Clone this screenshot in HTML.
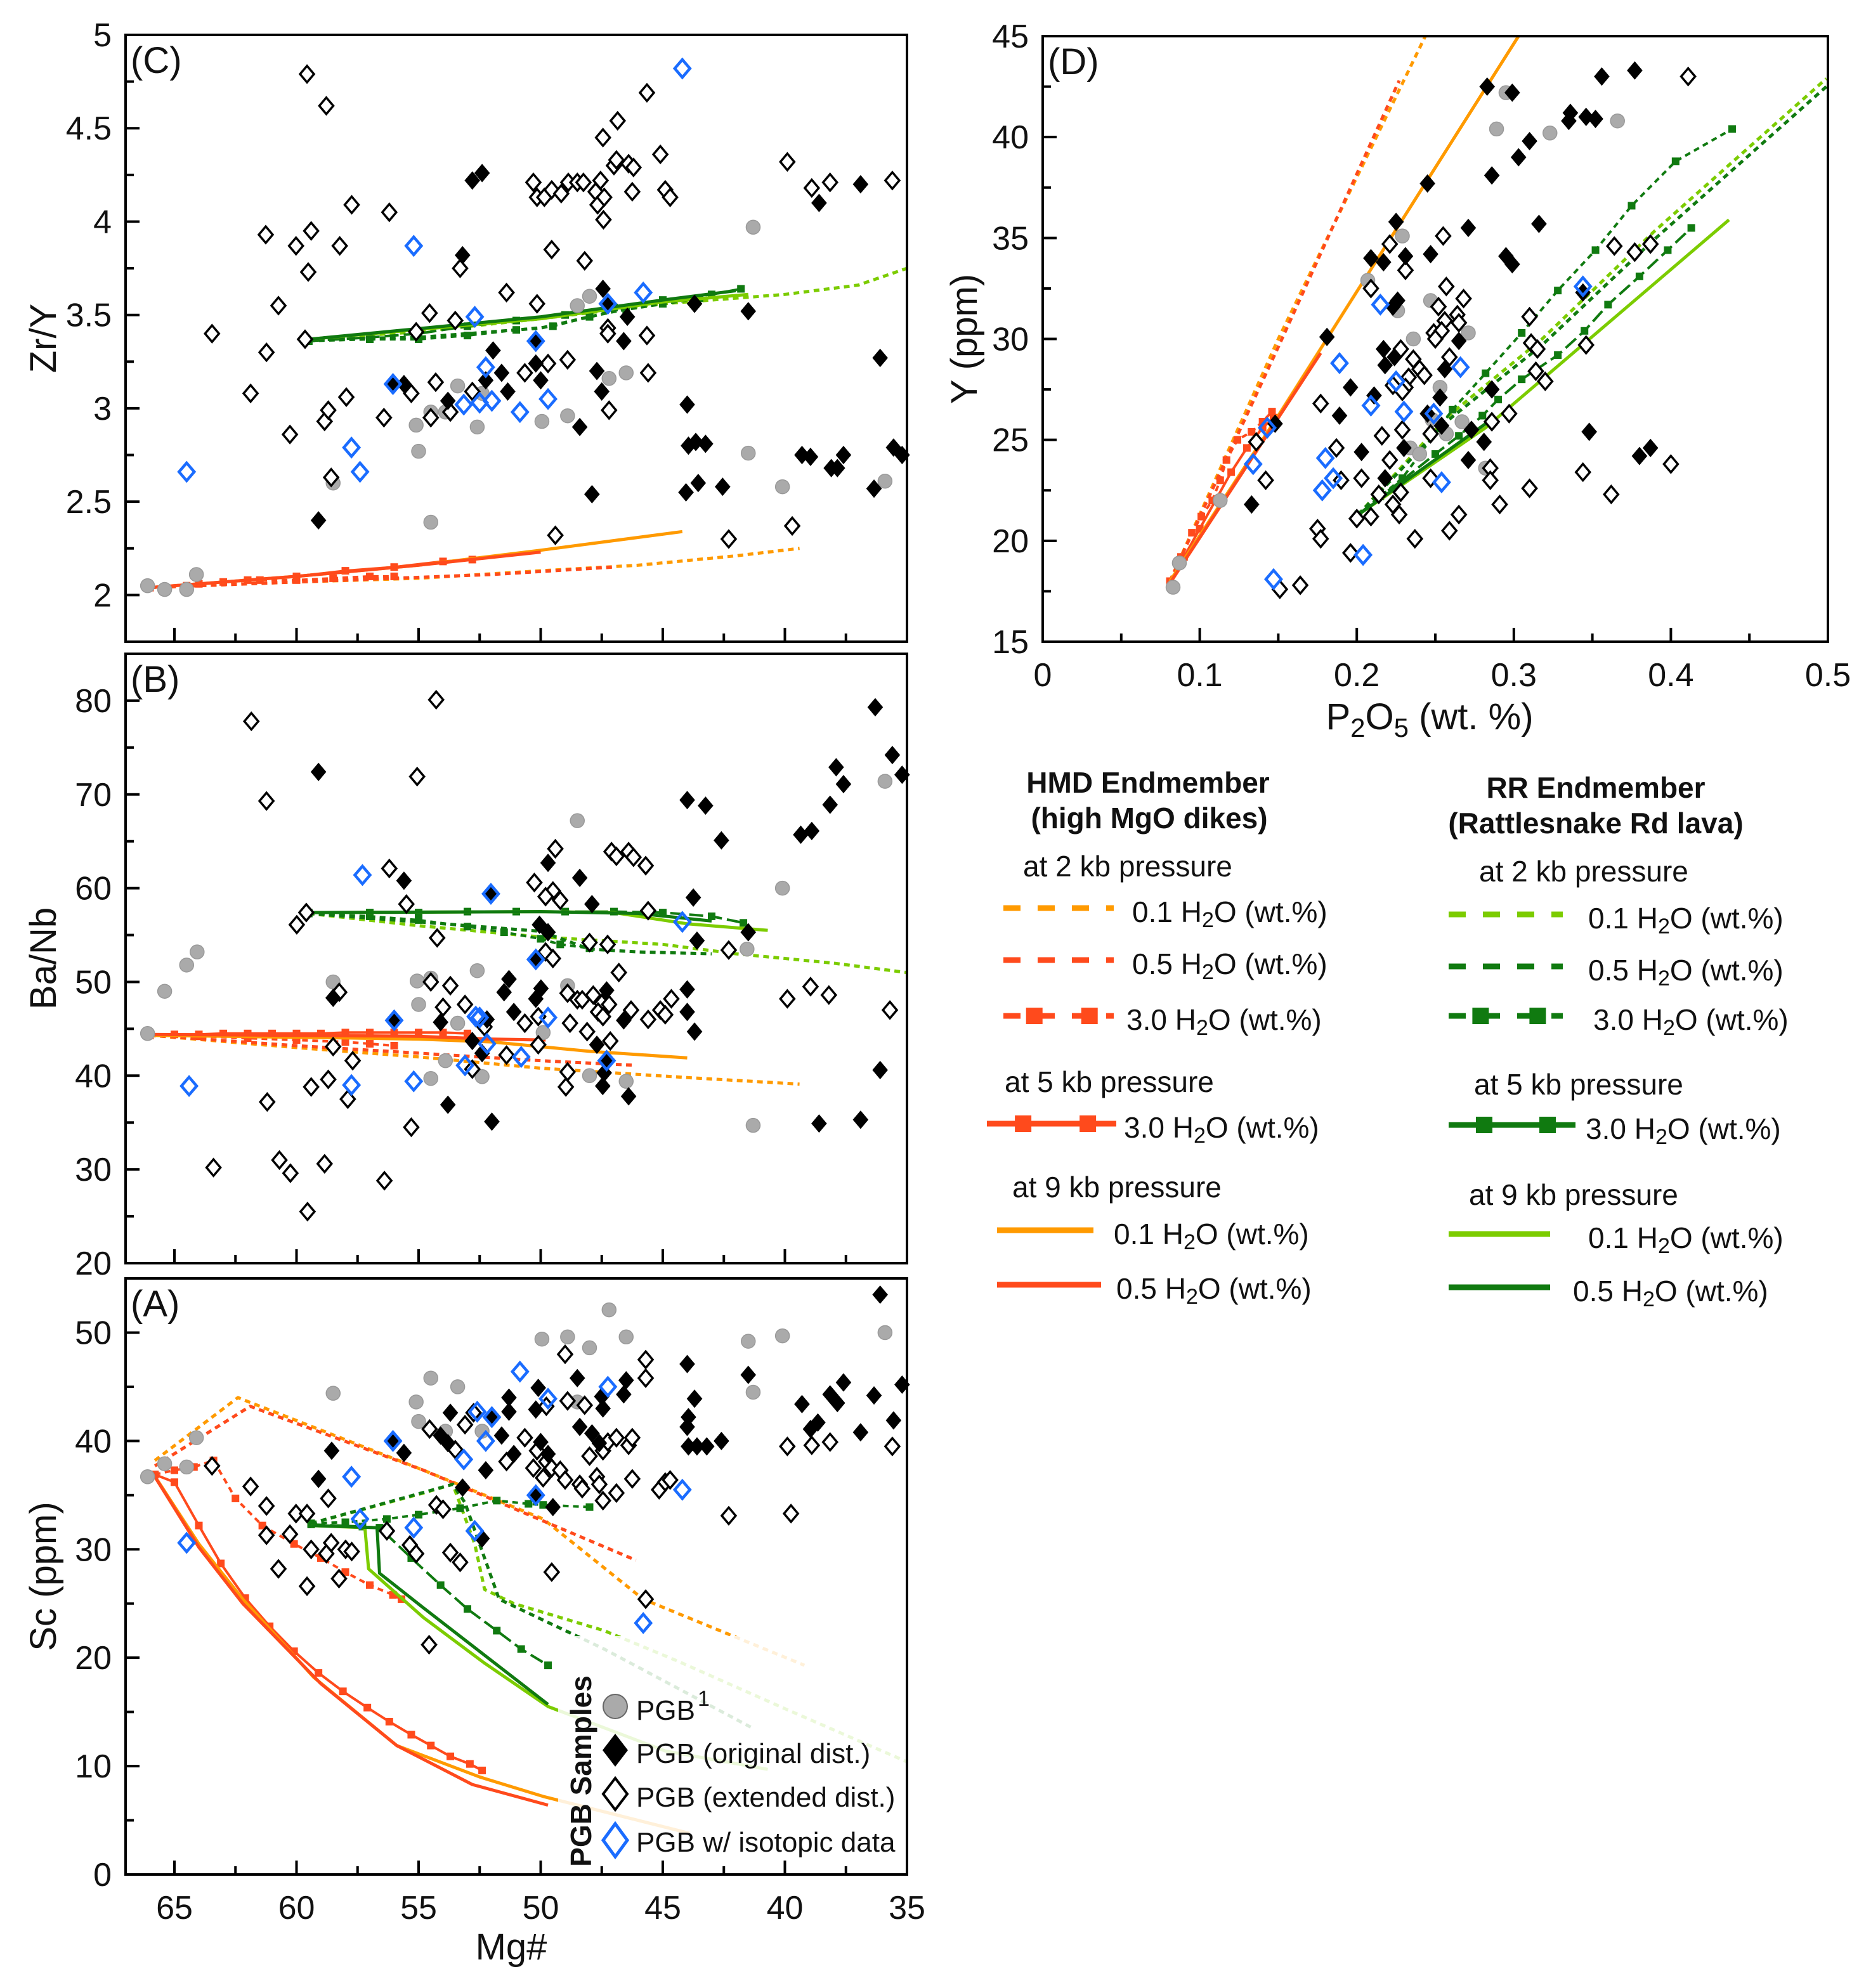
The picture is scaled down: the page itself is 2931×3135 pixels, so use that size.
<!DOCTYPE html>
<html><head><meta charset="utf-8"><style>
html,body{margin:0;padding:0;background:#fff;}
svg{display:block;font-family:"Liberation Sans",sans-serif;}
</style></head><body>
<svg id="fig" width="2931" height="3135" viewBox="0 0 2931 3135" xmlns="http://www.w3.org/2000/svg">
<rect x="0" y="0" width="2931" height="3135" fill="#fff"/>
<g id="legend" font-size="46" fill="#111">
 <text x="1810" y="1250" text-anchor="middle" font-weight="bold" font-size="46">HMD Endmember</text>
 <text x="1812" y="1306" text-anchor="middle" font-weight="bold" font-size="46">(high MgO dikes)</text>
 <text x="1613" y="1382">at 2 kb pressure</text>
 <text x="1785" y="1454">0.1 H<tspan font-size="34" dy="8">2</tspan><tspan dy="-8">O (wt.%)</tspan></text>
 <text x="1785" y="1536">0.5 H<tspan font-size="34" dy="8">2</tspan><tspan dy="-8">O (wt.%)</tspan></text>
 <text x="1776" y="1624">3.0 H<tspan font-size="34" dy="8">2</tspan><tspan dy="-8">O (wt.%)</tspan></text>
 <text x="1584" y="1722">at 5 kb pressure</text>
 <text x="1772" y="1794">3.0 H<tspan font-size="34" dy="8">2</tspan><tspan dy="-8">O (wt.%)</tspan></text>
 <text x="1596" y="1888">at 9 kb pressure</text>
 <text x="1756" y="1962">0.1 H<tspan font-size="34" dy="8">2</tspan><tspan dy="-8">O (wt.%)</tspan></text>
 <text x="1760" y="2048">0.5 H<tspan font-size="34" dy="8">2</tspan><tspan dy="-8">O (wt.%)</tspan></text>
 <text x="2516" y="1258" text-anchor="middle" font-weight="bold" font-size="46">RR Endmember</text>
 <text x="2516" y="1314" text-anchor="middle" font-weight="bold" font-size="46">(Rattlesnake Rd lava)</text>
 <text x="2332" y="1390">at 2 kb pressure</text>
 <text x="2504" y="1464">0.1 H<tspan font-size="34" dy="8">2</tspan><tspan dy="-8">O (wt.%)</tspan></text>
 <text x="2504" y="1546">0.5 H<tspan font-size="34" dy="8">2</tspan><tspan dy="-8">O (wt.%)</tspan></text>
 <text x="2512" y="1624">3.0 H<tspan font-size="34" dy="8">2</tspan><tspan dy="-8">O (wt.%)</tspan></text>
 <text x="2324" y="1726">at 5 kb pressure</text>
 <text x="2500" y="1796">3.0 H<tspan font-size="34" dy="8">2</tspan><tspan dy="-8">O (wt.%)</tspan></text>
 <text x="2316" y="1900">at 9 kb pressure</text>
 <text x="2504" y="1968">0.1 H<tspan font-size="34" dy="8">2</tspan><tspan dy="-8">O (wt.%)</tspan></text>
 <text x="2480" y="2052">0.5 H<tspan font-size="34" dy="8">2</tspan><tspan dy="-8">O (wt.%)</tspan></text>
</g>
</svg>
<script>
// ===== Panel C data (Mg#, Zr/Y) =====
const cOpen=[[59.57,4.79],[58.78,4.62],[63.46,3.40],[61.26,3.93],[61.23,3.30],[60.74,3.55],[61.88,3.08],[60.27,2.86],[60.02,3.87],[59.4,3.95],[59.52,3.73],[59.65,3.37],[57.74,4.09],[58.23,3.87],[58.85,2.93],[58.7,2.99],[57.96,3.06],[58.58,2.63],[56.2,4.05],[56.42,2.95],[55.3,3.08],[55.1,3.41],[54.55,3.51],[54.3,3.14],[54.5,2.95],[53.7,2.98],[53.5,3.47],[53.3,3.75],[52.8,3.09],[51.4,3.62],[50.65,3.19],[50.15,3.56],[50.3,4.21],[50.15,4.13],[49.85,4.13],[49.55,4.17],[49.55,3.85],[49.7,3.24],[49.4,2.32],[49.16,4.15],[48.87,4.21],[48.5,4.21],[48.25,4.21],[48.2,3.79],[48.9,3.26],[47.75,4.16],[47.67,4.09],[47.55,4.22],[47.45,4.45],[47.4,4.13],[47.43,4.01],[47.25,3.43],[47.25,3.40],[47.2,2.99],[47.0,4.30],[46.9,4.33],[46.85,4.54],[46.4,4.31],[46.2,4.29],[46.25,4.16],[45.65,4.69],[45.65,3.39],[45.6,3.19],[45.1,4.36],[44.9,4.17],[44.7,4.13],[42.3,2.30],[39.9,4.32],[39.7,2.37],[38.9,4.18],[38.15,4.21],[35.6,4.22]];
const cFilled=[[59.1,2.40],[56.0,3.13],[55.6,3.13],[53.8,3.04],[52.8,4.22],[52.4,4.26],[53.2,3.82],[52.25,3.15],[51.95,3.31],[51.6,3.19],[51.35,3.09],[50.2,3.24],[50.0,3.15],[50.2,3.36],[48.4,2.90],[47.9,2.54],[47.7,3.20],[47.5,3.09],[47.45,3.64],[46.6,3.36],[46.45,3.49],[43.7,3.56],[44.0,3.02],[43.95,2.80],[43.65,2.82],[43.25,2.81],[44.05,2.55],[43.55,2.60],[42.55,2.58],[41.5,3.52],[39.3,2.75],[38.95,2.74],[38.6,4.10],[38.1,2.68],[37.85,2.68],[37.6,2.75],[36.9,4.20],[36.1,3.27],[36.35,2.57],[35.55,2.79],[35.2,2.75],[47.25,3.56]];
const cGray=[[66.1,2.05],[65.4,2.03],[64.5,2.03],[64.1,2.11],[58.5,2.60],[55.1,2.91],[55.0,2.77],[54.5,2.39],[54.5,2.98],[53.9,2.98],[53.4,3.12],[52.6,2.90],[52.4,3.08],[49.95,2.93],[48.9,2.96],[48.5,3.55],[48.0,3.60],[47.2,3.16],[46.5,3.19],[41.3,3.97],[41.5,2.76],[40.1,2.58],[35.9,2.61]];
const cBlue=[[64.5,2.66],[57.75,2.79],[57.4,2.66],[56.05,3.13],[55.2,3.87],[53.15,3.02],[52.7,3.49],[52.5,3.03],[52.25,3.22],[52.0,3.04],[50.85,2.98],[50.2,3.36],[49.7,3.05],[47.25,3.56],[45.8,3.62],[44.2,4.82]];
const cHMD2_01=[[66,2.04],[60,2.07],[55,2.09],[50,2.13],[46,2.16],[42,2.21],[39.4,2.25]];
const cHMD2_05=[[66,2.04],[58,2.08],[52,2.11],[47,2.15]];
const cHMD2_30=[[66,2.04],[64.5,2.05],[63,2.07],[61.5,2.08],[60,2.08],[58.5,2.09],[57,2.10],[56,2.10]];
const cHMD5_30=[[66,2.04],[64,2.06],[62,2.08],[60,2.10],[58,2.13],[56,2.15],[54,2.18],[52.8,2.19]];
const cHMD9_01=[[66,2.04],[60,2.10],[55,2.16],[50,2.24],[44.2,2.34]];
const cHMD9_05=[[66,2.04],[60,2.10],[55,2.16],[50,2.23]];
const cRR2_01=[[59.5,3.37],[55,3.41],[50,3.48],[45,3.56],[40,3.61],[37,3.66],[35,3.75]];
const cRR2_05=[[59.5,3.37],[55,3.38],[50,3.43],[47,3.52],[44,3.58]];
const cRR2_30=[[59.5,3.36],[57,3.37],[55,3.37],[53,3.39],[51,3.42],[49.5,3.44],[48,3.49],[46.5,3.53],[45,3.56],[43.5,3.59]];
const cRR5_30=[[59.5,3.36],[57,3.38],[55,3.40],[53,3.44],[51,3.47],[49,3.50],[47,3.54],[45,3.58],[43,3.61],[41.8,3.64]];
const cRR9_01=[[59.5,3.37],[50,3.48],[45,3.57],[41.5,3.61]];
const cRR9_05=[[59.5,3.37],[50,3.49],[45,3.58],[42,3.63]];
const cYTicks=["2","2.5","3","3.5","4","4.5","5"];

// ===== Panel B data (Mg#, Ba/Nb) =====
const bOpen=[[61.85,77.8],[61.23,69.3],[54.28,80.1],[55.06,71.9],[56.2,62.1],[59.6,57.4],[59.99,56.1],[55.5,58.3],[54.24,54.7],[50.26,60.6],[49.5,59.7],[49.8,59.1],[49.2,58.7],[49.4,64.2],[47.1,63.9],[46.9,63.4],[46.4,63.9],[46.2,63.3],[45.7,62.4],[45.6,57.6],[48.0,54.2],[47.26,54.0],[49.8,53.2],[49.5,52.5],[46.8,51.0],[42.3,53.4],[58.25,48.9],[54.5,50.0],[53.7,49.6],[54.0,47.3],[53.1,47.6],[52.3,45.2],[50.65,45.6],[50.1,46.3],[48.9,48.8],[48.5,48.1],[48.3,48.1],[47.85,48.6],[47.5,47.7],[47.65,46.8],[47.45,46.3],[47.2,47.6],[48.8,45.6],[48.1,44.7],[46.3,47.0],[45.6,46.0],[45.1,47.0],[44.9,46.5],[44.65,48.2],[50.1,43.3],[48.9,40.4],[48.97,38.8],[47.15,43.7],[51.4,42.2],[52.8,40.7],[58.5,43.1],[57.7,41.6],[58.7,39.6],[59.4,38.8],[57.9,37.5],[61.2,37.2],[55.3,34.5],[63.4,30.2],[60.7,31.0],[60.25,29.6],[58.85,30.6],[56.4,28.8],[59.55,25.5],[39.9,48.2],[38.95,49.5],[38.2,48.6],[35.7,47.0]];
const bFilled=[[59.1,72.4],[55.6,60.8],[52.04,59.4],[49.7,62.7],[48.4,61.1],[47.9,58.3],[44.0,69.4],[43.25,68.8],[42.6,65.1],[43.75,59.0],[43.6,54.4],[41.5,55.3],[36.3,79.3],[35.6,74.2],[35.2,72.1],[37.9,72.9],[37.6,71.1],[38.15,68.9],[39.35,65.7],[38.9,66.1],[50.05,56.1],[49.7,55.3],[50.2,52.4],[51.3,50.3],[51.5,48.9],[49.99,49.3],[50.2,48.2],[51.1,46.8],[52.2,46.0],[54.1,45.7],[56.0,45.9],[47.3,49.1],[46.6,45.9],[44.0,49.2],[44.0,46.8],[43.7,44.7],[52.8,43.7],[52.4,42.4],[47.7,43.3],[47.3,41.5],[47.4,40.3],[47.46,38.9],[46.4,37.8],[53.8,36.9],[52.0,35.1],[58.5,48.3],[36.1,40.6],[38.6,34.9],[36.9,35.3]];
const bGray=[[66.1,44.5],[65.4,49.0],[64.5,51.8],[64.07,53.2],[58.5,50.0],[55.06,50.1],[54.5,50.4],[55.0,47.6],[52.6,51.2],[48.5,67.2],[48.9,49.6],[53.4,45.6],[53.9,41.6],[54.5,39.7],[52.4,39.9],[49.9,44.6],[48.0,40.0],[46.5,39.4],[40.1,60.0],[41.55,53.5],[41.3,34.7],[35.9,71.4]];
const bBlue=[[64.4,38.9],[57.3,61.4],[56.0,45.9],[57.75,39.0],[55.2,39.4],[52.66,46.3],[52.5,46.2],[52.2,43.4],[53.1,41.1],[50.8,42.0],[49.7,46.2],[50.2,52.4],[52.04,59.4],[47.3,41.6],[44.2,56.4]];
const bHMD2_01=[[66,44.3],[60,43.0],[55,42.0],[50,40.8],[44,39.8],[39.4,39.1]];
const bHMD2_05=[[66,44.3],[60,43.2],[55,42.4],[50,41.6],[46.1,41.1]];
const bHMD2_30=[[66,44.3],[64,44.2],[62,44.0],[60,43.8],[58,43.6],[57,43.4],[56,43.2]];
const bHMD5_30=[[66,44.4],[65,44.4],[64,44.4],[63,44.5],[62,44.5],[61,44.5],[60,44.5],[59,44.5],[58,44.6],[57,44.6],[56,44.6],[55,44.6],[54,44.6],[53,44.5]];
const bHMD9_01=[[66,44.3],[60,44.1],[55,43.9],[52,43.6],[48,42.6],[44,41.9]];
const bHMD9_05=[[66,44.4],[60,44.3],[55,44.2],[52,43.9],[49.8,43.8]];
const bRR2_01=[[59.5,57.3],[55,56.0],[50,54.8],[45,54.0],[42,53.0],[38,52.0],[35,51.0]];
const bRR2_05=[[59.5,57.3],[55,56.4],[50,55.4],[48,53.5],[46,53.2],[43,53.0]];
const bRR2_30=[[59.5,57.3],[57,57.0],[55,56.6],[53,55.9],[51.5,55.3],[50,54.6],[49.2,54.0],[48,53.6]];
const bRR5_30=[[59.5,57.4],[57,57.4],[55,57.4],[53,57.5],[51,57.5],[49,57.5],[47,57.5],[45,57.4],[43,57.0],[41.7,56.3]];
const bRR9_01=[[59.5,57.4],[50,57.5],[47,57.4],[44,56.2],[40.7,55.5]];
const bRR9_05=[[59.5,57.4],[50,57.5],[46,57.3],[43,56.5]];
const bYTicks=["20","30","40","50","60","70","80"];

// ===== Panel A data (Mg#, Sc) =====
const aOpen=[[63.46,37.7],[61.88,35.8],[61.23,34.0],[61.23,31.3],[60.74,28.2],[60.02,33.3],[60.27,31.4],[59.57,33.3],[59.57,26.6],[59.4,30.0],[58.7,34.7],[58.58,30.6],[58.78,29.6],[58.26,27.3],[57.99,30.0],[57.74,29.8],[56.3,31.7],[55.36,30.4],[55.1,29.6],[54.55,41.1],[54.57,21.2],[54.27,34.1],[54.0,33.7],[53.7,29.7],[53.5,39.2],[53.3,28.8],[53.1,41.5],[52.75,42.6],[51.4,38.1],[50.65,40.3],[50.3,37.5],[50.15,39.1],[49.9,36.6],[49.77,38.1],[49.55,37.5],[49.77,43.2],[49.55,27.9],[49.2,37.3],[49.0,48.0],[49.0,36.4],[48.9,43.7],[48.4,36.0],[48.3,35.6],[48.2,43.3],[48.0,38.6],[47.7,36.7],[47.6,36.0],[47.45,34.5],[47.45,39.1],[47.25,39.9],[46.9,40.3],[46.9,35.2],[46.4,39.6],[46.25,40.3],[46.25,36.5],[45.7,47.5],[45.7,45.8],[45.7,25.4],[45.15,35.5],[44.9,36.2],[44.7,36.4],[42.3,33.1],[39.9,39.5],[39.75,33.3],[38.9,39.6],[38.15,39.9],[35.6,39.5]];
const aFilled=[[59.1,36.5],[58.56,39.1],[56.0,40.0],[55.6,38.9],[54.1,40.5],[53.7,42.6],[53.8,39.8],[53.2,35.7],[52.4,31.0],[52.25,37.3],[51.95,42.2],[51.6,40.5],[51.3,42.7],[51.3,44.0],[51.1,38.8],[50.2,42.9],[50.1,44.9],[50.0,39.9],[49.7,38.8],[50.2,35.0],[49.5,33.9],[48.5,45.8],[48.4,41.3],[47.9,40.7],[47.6,39.8],[47.45,43.0],[47.5,44.1],[46.6,44.3],[46.5,45.6],[44.0,47.1],[43.95,42.2],[43.7,43.9],[44.0,41.3],[43.95,39.5],[43.6,39.5],[43.2,39.5],[42.6,40.0],[41.5,46.1],[39.3,43.4],[38.95,41.1],[38.65,41.7],[38.15,44.3],[37.85,43.5],[37.6,45.4],[36.9,40.8],[36.35,44.2],[36.1,53.5],[35.55,41.9],[35.2,45.2]];
const aGray=[[66.1,36.7],[65.4,37.9],[64.5,37.6],[64.1,40.3],[58.5,44.4],[55.1,43.6],[55.0,41.8],[54.5,45.8],[53.9,40.9],[53.4,45.0],[52.4,40.9],[49.95,49.4],[48.9,49.6],[48.0,48.6],[48.5,43.6],[47.2,52.1],[46.5,49.6],[41.5,49.2],[41.3,44.5],[40.1,49.7],[35.9,50.0]];
const aBlue=[[64.5,30.6],[57.75,36.7],[57.4,32.8],[56.05,40.0],[55.2,32.0],[53.15,38.3],[52.6,42.7],[52.0,42.2],[52.25,40.0],[52.7,31.7],[50.85,46.4],[50.2,35.0],[49.7,43.9],[47.25,45.0],[45.8,23.2],[44.2,35.5]];
const aHMD2_01=[[65.8,38.2],[62.4,44.0],[54.8,37.3],[49.9,32.8],[45.8,25.4],[39.2,19.3]];
const aHMD2_05=[[65.8,37.7],[61.9,43.2],[54.8,37.3],[46.1,29.0]];
const aHMD2_30=[[65.8,36.9],[65,37.3],[64.2,37.6],[63.4,38.2],[62.5,34.7],[61.4,32.2],[60.1,30.5],[59.0,29.2],[58.0,27.9],[57.0,26.7],[56.05,25.8],[55.7,25.4]];
const aHMD5_30=[[65.8,36.9],[65,36.2],[64.0,32.2],[63.1,28.7],[62.1,25.5],[61.1,22.9],[60.1,20.6],[59.1,18.6],[58.1,16.9],[57.1,15.4],[56.2,14.1],[55.3,12.9],[54.5,11.9],[53.7,10.9],[52.9,10.2],[52.4,9.6]];
const aHMD9_01=[[65.7,36.4],[64,30.5],[62.2,25.4],[59.3,18.2],[55.9,11.9],[52.5,9.0],[49.9,7.2],[43.9,3.8]];
const aHMD9_05=[[65.8,36.7],[64,30.2],[62.2,25.0],[59.0,17.6],[55.9,11.9],[52.8,8.3],[49.7,6.4]];
const aRR2_01=[[59.4,32.4],[54.8,35.2],[53.6,36.0],[52.7,30.5],[52.3,26.3],[51.1,25.0],[47.4,22.5],[44.4,19.7],[40.0,15.3],[35,10.4]];
const aRR2_05=[[59.4,32.4],[53.6,36.0],[53.1,34.3],[51.7,25.4],[47.4,20.8],[41.4,13.6]];
const aRR2_30=[[59.4,32.4],[58,32.5],[56.3,32.8],[55,33.2],[53.3,33.8],[51.8,34.5],[50.5,34.2],[49.9,34.1],[48.0,33.9]];
const aRR5_30=[[59.4,32.3],[57.3,32.1],[56.6,32.0],[55.3,29.2],[54.1,26.7],[53.0,24.5],[51.8,22.5],[50.8,20.8],[49.7,19.3]];
const aRR9_01=[[59.4,32.2],[57.2,32.0],[57.05,28.2],[54.8,23.7],[52.3,19.5],[49.7,15.5],[44.9,11.4],[40.7,9.7]];
const aRR9_05=[[59.4,32.2],[56.7,32.0],[56.6,27.8],[54.8,24.6],[49.7,15.7]];
const aYTicks=["0","10","20","30","40","50"];
const mgTicks=["65","60","55","50","45","40","35"];

// ===== Panel D data (P2O5, Y) =====
const dOpen=[[0.221,34.7],[0.255,35.1],[0.231,33.4],[0.209,32.5],[0.257,32.6],[0.268,32.0],[0.252,31.6],[0.264,31.2],[0.256,30.9],[0.249,30.3],[0.265,30.8],[0.254,30.4],[0.250,30.0],[0.259,29.1],[0.228,29.5],[0.236,29.0],[0.240,28.5],[0.243,28.2],[0.233,28.1],[0.223,27.7],[0.231,27.6],[0.229,27.4],[0.177,26.8],[0.216,25.2],[0.229,25.5],[0.247,25.3],[0.187,24.6],[0.221,24.0],[0.190,23.0],[0.203,23.1],[0.247,23.1],[0.228,22.4],[0.214,22.3],[0.223,21.8],[0.227,21.3],[0.200,21.1],[0.209,21.2],[0.175,20.6],[0.177,20.1],[0.196,19.4],[0.237,20.1],[0.259,20.5],[0.265,21.3],[0.151,17.6],[0.164,17.8],[0.142,23.0],[0.136,24.9],[0.285,23.6],[0.285,23.0],[0.291,21.8],[0.286,25.9],[0.297,26.3],[0.310,31.1],[0.311,29.8],[0.315,29.5],[0.314,28.4],[0.320,27.9],[0.310,22.6],[0.344,23.4],[0.346,29.7],[0.362,22.3],[0.364,34.6],[0.377,34.3],[0.387,34.7],[0.400,23.8],[0.411,43.0]];
const dFilled=[[0.283,42.5],[0.299,42.2],[0.356,43.0],[0.377,43.3],[0.336,41.2],[0.335,40.8],[0.346,41.0],[0.352,40.9],[0.310,39.8],[0.303,39.0],[0.286,38.1],[0.245,37.7],[0.225,35.8],[0.271,35.5],[0.316,35.7],[0.209,34.0],[0.217,33.8],[0.231,34.1],[0.247,34.2],[0.295,34.1],[0.299,33.7],[0.226,31.9],[0.223,31.6],[0.181,30.1],[0.265,29.9],[0.217,29.5],[0.224,29.1],[0.218,28.7],[0.256,28.5],[0.196,27.6],[0.211,27.2],[0.253,27.1],[0.286,27.5],[0.189,26.2],[0.245,26.3],[0.254,25.7],[0.273,25.5],[0.230,24.6],[0.203,24.4],[0.281,24.9],[0.271,24.0],[0.133,21.8],[0.148,25.8],[0.348,25.4],[0.380,24.2],[0.387,24.6],[0.344,32.3],[0.218,23.1]];
const dGray=[[0.295,42.2],[0.289,40.4],[0.323,40.2],[0.366,40.8],[0.207,32.9],[0.229,35.1],[0.226,31.4],[0.247,31.9],[0.236,30.0],[0.271,30.3],[0.253,27.6],[0.257,25.3],[0.267,25.9],[0.234,24.6],[0.240,24.3],[0.282,23.6],[0.083,17.7],[0.087,18.9],[0.113,22.0],[0.248,26.0]];
const dBlue=[[0.215,31.7],[0.189,28.8],[0.209,26.7],[0.225,27.9],[0.230,26.4],[0.249,26.3],[0.266,28.6],[0.180,24.1],[0.185,23.1],[0.178,22.5],[0.254,22.9],[0.204,19.3],[0.147,18.1],[0.134,23.8],[0.143,25.6],[0.344,32.6]];
const dHMD2_01=[[0.081,18.0],[0.15,30.0],[0.243,44.9],[0.25,46]];
const dHMD2_05=[[0.081,18.0],[0.15,29.6],[0.227,42.8]];
const dHMD2_30=[[0.081,18.0],[0.088,19.2],[0.095,20.4],[0.101,21.2],[0.108,22.0],[0.113,23.0],[0.117,24.0],[0.124,25.0],[0.133,25.4],[0.140,25.9],[0.146,26.4]];
const dHMD5_30=[[0.081,17.9],[0.090,19.2],[0.100,20.6],[0.110,22.0],[0.120,23.4],[0.130,24.6],[0.140,25.6],[0.147,26.1]];
const dHMD9_01=[[0.081,18.0],[0.15,26.2],[0.303,45.0],[0.31,46]];
const dHMD9_05=[[0.081,17.9],[0.177,29.3]];
const dRR2_01=[[0.201,21.3],[0.257,26.1],[0.318,30.0],[0.389,35.3],[0.499,42.9]];
const dRR2_05=[[0.201,21.3],[0.257,25.9],[0.318,29.7],[0.389,34.9],[0.499,42.5]];
const dRR2_30=[[0.201,21.3],[0.229,23.1],[0.261,26.5],[0.282,28.3],[0.305,30.3],[0.328,32.4],[0.352,34.4],[0.375,36.6],[0.403,38.8],[0.439,40.4]];
const dRR5_30=[[0.201,21.3],[0.215,22.2],[0.229,23.0],[0.25,24.3],[0.265,25.2],[0.28,26.2],[0.29,27.0],[0.305,28.0],[0.328,29.2],[0.345,30.4],[0.36,31.7],[0.38,33.1],[0.398,34.4],[0.413,35.5]];
const dRR9_01=[[0.201,21.3],[0.282,25.6],[0.437,35.9]];
const dRR9_05=[[0.201,21.3],[0.282,25.8]];
const dXTicks=["0","0.1","0.2","0.3","0.4","0.5"];
const dYTicks=["15","20","25","30","35","40","45"];

// ===== rendering =====
const NS="http://www.w3.org/2000/svg";
const svg=document.getElementById('fig');
const legendG=document.getElementById('legend');
function mk(tag,attrs,parent){const e=document.createElementNS(NS,tag);for(const k in attrs)e.setAttribute(k,attrs[k]);(parent||svg).appendChild(e);return e;}
const ORANGE="#ff9a00",RED="#ff4a1c",LGREEN="#7ccc00",DGREEN="#107a10",BLUE="#1a6cff";
const STY={
 h201:{c:ORANGE,w:5,d:"9,7",m:false},
 h205:{c:RED,w:5,d:"9,7",m:false},
 h230:{c:RED,w:4,d:"9,7",m:true},
 h530:{c:RED,w:4,d:"",m:true},
 h901:{c:ORANGE,w:5,d:"",m:false},
 h905:{c:RED,w:5,d:"",m:false},
 r201:{c:LGREEN,w:5,d:"9,7",m:false},
 r205:{c:DGREEN,w:5,d:"9,7",m:false},
 r230:{c:DGREEN,w:4,d:"9,7",m:true},
 r530:{c:DGREEN,w:4,d:"22,8",m:true},
 r901:{c:LGREEN,w:5,d:"",m:false},
 r905:{c:DGREEN,w:5,d:"",m:false}
};
let clipN=0;
function panel(p){
 const sx=v=>p.x0+(v-p.xmin)/(p.xmax-p.xmin)*(p.x1-p.x0);
 const sy=v=>p.y1-(v-p.ymin)/(p.ymax-p.ymin)*(p.y1-p.y0);
 const g=mk('g',{});
 
 
 const cid='clip'+(clipN++);
 const cp=mk('clipPath',{id:cid},g);
 mk('rect',{x:p.x0,y:p.y0,width:p.x1-p.x0,height:p.y1-p.y0},cp);
 const lines=mk('g',{'clip-path':'url(#'+cid+')'},g);
 
 
 for(const s of p.series){
  const st=STY[s.k];
  const pts=s.d.map(q=>sx(q[0]).toFixed(1)+','+sy(q[1]).toFixed(1)).join(' ');
  const pl=mk('polyline',{points:pts,fill:'none',stroke:st.c,'stroke-width':st.w,'stroke-dasharray':st.d,'stroke-linejoin':'round'},lines);
  
  
  if(st.m){for(const q of s.d){const r=mk('rect',{x:sx(q[0])-6,y:sy(q[1])-6,width:12,height:12,fill:st.c},lines);
   
   }}
 }
 if(p.fade){const f=mk('rect',{x:p.fade[0],y:p.fade[1],width:p.fade[2],height:p.fade[3],fill:'#fff','fill-opacity':0.85},g);
  
  }
 const pg=mk('g',{},g);
 
 
 function dia(x,y,fill,stroke,sw,hw,hh,parent,nm){const e=mk('polygon',{points:`${x},${y-hh} ${x+hw},${y} ${x},${y+hh} ${x-hw},${y}`,fill:fill,stroke:stroke,'stroke-width':sw},parent);
  
  }
 for(const q of p.gray){const c=mk('circle',{cx:sx(q[0]),cy:sy(q[1]),r:11,fill:'#aaaaaa',stroke:'#999','stroke-width':1.5},pg);
  
  }
 for(const q of p.open)dia(sx(q[0]),sy(q[1]),'#fff','#000',3.5,11,13,pg,'pgb-extended-point');
 for(const q of p.filled)dia(sx(q[0]),sy(q[1]),'#000','#000',2,11,13,pg,'pgb-original-point');
 for(const q of p.blue)dia(sx(q[0]),sy(q[1]),'none',BLUE,4.5,12,14,pg,'pgb-isotopic-point');
 const fr=mk('rect',{x:p.x0,y:p.y0,width:p.x1-p.x0,height:p.y1-p.y0,fill:'none',stroke:'#000','stroke-width':4},g);
 
 
 for(let i=0;;i++){const v=p.xt0+i*p.xtStep;if((p.xtStep>0&&v>p.xtEnd+1e-9)||(p.xtStep<0&&v<p.xtEnd-1e-9))break;
  const major=(i%2===0);const L=major?22:13;const X=sx(v);
  const t=mk('line',{x1:X,y1:p.y1,x2:X,y2:p.y1-L,stroke:'#000','stroke-width':4},g);
  
  }
 if(p.xLabels){p.xLabels.forEach((lab,i)=>{const v=p.xl0+i*p.xlStep;const t=mk('text',{x:sx(v),y:p.y1+70,'text-anchor':'middle','font-size':52,fill:'#111'},g);t.textContent=lab;
  
  });}
 for(let i=0;;i++){const v=p.ymin+i*p.ytStep;if(v>p.ymax+1e-9)break;
  const rel=Math.round((v-p.yl0)/p.ytStep);const major=(rel%2===0)&&v>=p.yl0-1e-9;const L=major?22:13;const Y=sy(v);
  const t=mk('line',{x1:p.x0,y1:Y,x2:p.x0+L,y2:Y,stroke:'#000','stroke-width':4},g);
  
  }
 p.yLabels.forEach((lab,i)=>{const v=p.yl0+i*p.ylStep;const t=mk('text',{x:p.x0-22,y:sy(v)+18,'text-anchor':'end','font-size':52,fill:'#111'},g);t.textContent=lab;
  
  });
 const pl=mk('text',{x:p.x0+8,y:p.y0+60,'font-size':58,fill:'#111'},g);pl.textContent=p.label;
 
 
 const yt=mk('text',{x:0,y:0,'text-anchor':'middle','font-size':58,fill:'#111',transform:`translate(${p.ytx},${(p.y0+p.y1)/2}) rotate(-90)`},g);yt.textContent=p.ytitle;
 
 
 return {sx,sy,g};
}
function ser(arrs,prefix){const keys=['h201','h205','h230','h530','h901','h905','r201','r205','r230','r530','r901','r905'];
 const names=['hmd-2kb-0.1','hmd-2kb-0.5','hmd-2kb-3.0','hmd-5kb-3.0','hmd-9kb-0.1','hmd-9kb-0.5','rr-2kb-0.1','rr-2kb-0.5','rr-2kb-3.0','rr-5kb-3.0','rr-9kb-0.1','rr-9kb-0.5'];
 return arrs.map((d,i)=>({k:keys[i],d:d,n:prefix+'-'+names[i]+'-curve'}));}

panel({name:'panel-c',label:'(C)',ytitle:'Zr/Y',ytx:88,x0:198,x1:1430,y0:55,y1:1012,xmin:67,xmax:35,ymin:1.75,ymax:5,
 xt0:65,xtStep:-2.5,xtEnd:35,ytStep:0.25,yl0:2,ylStep:0.5,yLabels:cYTicks,
 series:ser([cHMD2_01,cHMD2_05,cHMD2_30,cHMD5_30,cHMD9_01,cHMD9_05,cRR2_01,cRR2_05,cRR2_30,cRR5_30,cRR9_01,cRR9_05],'c'),
 open:cOpen,filled:cFilled,gray:cGray,blue:cBlue});
panel({name:'panel-b',label:'(B)',ytitle:'Ba/Nb',ytx:88,x0:198,x1:1430,y0:1031,y1:1992,xmin:67,xmax:35,ymin:20,ymax:85,
 xt0:65,xtStep:-2.5,xtEnd:35,ytStep:5,yl0:20,ylStep:10,yLabels:bYTicks,
 series:ser([bHMD2_01,bHMD2_05,bHMD2_30,bHMD5_30,bHMD9_01,bHMD9_05,bRR2_01,bRR2_05,bRR2_30,bRR5_30,bRR9_01,bRR9_05],'b'),
 open:bOpen,filled:bFilled,gray:bGray,blue:bBlue});
panel({name:'panel-a',label:'(A)',ytitle:'Sc (ppm)',ytx:88,x0:198,x1:1430,y0:2016,y1:2956,xmin:67,xmax:35,ymin:0,ymax:55,
 xt0:65,xtStep:-2.5,xtEnd:35,ytStep:5,yl0:0,ylStep:10,yLabels:aYTicks,xLabels:mgTicks,xl0:65,xlStep:-5,
 fade:[880,2580,548,372],
 series:ser([aHMD2_01,aHMD2_05,aHMD2_30,aHMD5_30,aHMD9_01,aHMD9_05,aRR2_01,aRR2_05,aRR2_30,aRR5_30,aRR9_01,aRR9_05],'a'),
 open:aOpen,filled:aFilled,gray:aGray,blue:aBlue});
panel({name:'panel-d',label:'(D)',ytitle:'Y (ppm)',ytx:1540,x0:1644,x1:2882,y0:57,y1:1012,xmin:0,xmax:0.5,ymin:15,ymax:45,
 xt0:0,xtStep:0.05,xtEnd:0.5,ytStep:2.5,yl0:15,ylStep:5,yLabels:dYTicks,xLabels:dXTicks,xl0:0,xlStep:0.1,
 series:ser([dHMD2_01,dHMD2_05,dHMD2_30,dHMD5_30,dHMD9_01,dHMD9_05,dRR2_01,dRR2_05,dRR2_30,dRR5_30,dRR9_01,dRR9_05],'d'),
 open:dOpen,filled:dFilled,gray:dGray,blue:dBlue});

let t=mk('text',{x:806,y:3090,'text-anchor':'middle','font-size':58,fill:'#111'});t.textContent='Mg#';


t=mk('text',{x:2254,y:1150,'text-anchor':'middle','font-size':58,fill:'#111'});
t.innerHTML='P<tspan font-size="42" dy="12">2</tspan><tspan dy="-12">O</tspan><tspan font-size="42" dy="12">5</tspan><tspan dy="-12"> (wt. %)</tspan>';



const sl=mk('g',{});


t=mk('text',{x:0,y:0,'text-anchor':'middle','font-size':46,'font-weight':'bold',fill:'#111',transform:'translate(932,2793) rotate(-90)'},sl);t.textContent='PGB Samples';


let e=mk('circle',{cx:970,cy:2691,r:19,fill:'#aaa',stroke:'#666','stroke-width':2},sl);


e=mk('polygon',{points:'970,2734 990,2760 970,2786 950,2760',fill:'#000'},sl);


e=mk('polygon',{points:'970,2804 989,2829 970,2854 951,2829',fill:'#fff',stroke:'#000','stroke-width':4},sl);


e=mk('polygon',{points:'970,2876 989,2902 970,2928 951,2902',fill:'none',stroke:BLUE,'stroke-width':5},sl);


const sLabels=[['PGB',2712],['PGB (original dist.)',2780],['PGB (extended dist.)',2849],['PGB w/ isotopic data',2920]];
sLabels.forEach((s,i)=>{const tx=mk('text',{x:1003,y:s[1],'font-size':44,fill:'#111'},sl);tx.textContent=s[0];
 
 });
t=mk('text',{x:1100,y:2690,'font-size':34,fill:'#111'},sl);t.textContent='1';



const sw=[
 ['h201',1582,1756,1432],['h205',1582,1756,1514],['h230',1582,1756,1602],['h530',1556,1760,1772],['h901',1572,1724,1940],['h905',1572,1736,2026],
 ['r201',2284,2464,1442],['r205',2284,2464,1524],['r230',2284,2464,1602],['r530',2284,2484,1774],['r901',2284,2444,1946],['r905',2284,2444,2030]];
sw.forEach(s=>{const st=STY[s[0]];
 const ln=mk('line',{x1:s[1],y1:s[3],x2:s[2],y2:s[3],stroke:st.c,'stroke-width':9,'stroke-dasharray':st.d?(s[0]==='r530'?'':'27,27'):'' },legendG);
 
 
 if(st.m){[0.28,0.78].forEach(f=>{const x=s[1]+(s[2]-s[1])*f;const r=mk('rect',{x:x-13,y:s[3]-13,width:26,height:26,fill:st.c},legendG);
  
  });}
});
</script>
</body></html>
